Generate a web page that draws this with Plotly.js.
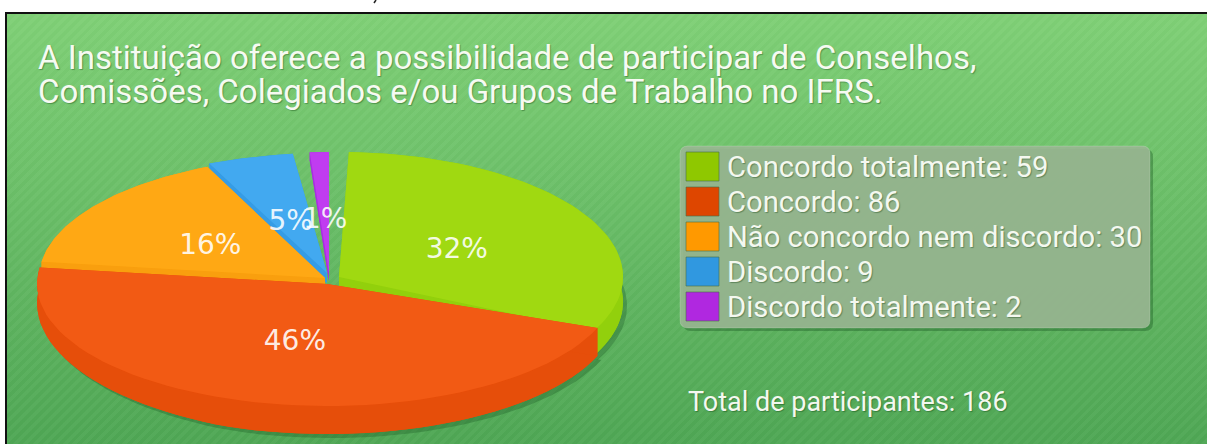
<!DOCTYPE html>
<html><head><meta charset="utf-8">
<script src="https://cdn.plot.ly/plotly-3.0.1.min.js"></script>
<style>
html,body{margin:0;padding:0;background:#fff;overflow:hidden}
#bg{position:absolute;left:5px;top:12px;width:1240px;height:440px;box-sizing:border-box;border:2px solid #111;
background:repeating-linear-gradient(135deg,rgba(255,255,255,.03) 0 3.5px,rgba(0,0,0,.012) 3.5px 7px),linear-gradient(180deg,#7fd076 0%,#4ea654 100%);}
#chart{position:absolute;left:0;top:0;width:1207px;height:444px}
</style></head><body>
<div id="bg"></div><div id="chart"></div>
<script>
const titleText = "A Instituição oferece a possibilidade de participar de Conselhos,<br>Comissões, Colegiados e/ou Grupos de Trabalho no IFRS.";
const categories = ["Concordo totalmente","Concordo","Não concordo nem discordo","Discordo","Discordo totalmente"];
const values = [59,86,30,9,2];
const totalLabel = "Total de participantes: 186";
const topColors = ["#a0d911","#f25a14","#ffa814","#42a9f0","#c03cf0"];
const sideColors = ["#92d00c","#e64e0a","#f99f0e","#359ce5","#a82ee0"];
const swatchColors = ["#8fc800","#de4600","#ff9900","#3098e0","#b028e0"];
const fontFamily = "Roboto, sans-serif";

const total = values.reduce((a,b)=>a+b,0);
// exploded slice geometry: apex, rotation nudge (deg), radii, extrusion, label nudge
const geom=[
 {c:[339,277],rot:2,rx:284,ryT:125,ryB:122,dep:25,ldy:6,ldx:-4},
 {c:[327,284],rot:-3,rx:290,ryT:124,ryB:122,dep:28,ldy:0,ldx:4},
 {c:[325,278],rot:-3,rx:286,ryT:122,ryB:122,dep:10,ldy:5,ldx:0},
 {c:[327,273],rot:-3,rx:286,ryT:120,ryB:120,dep:10,ldy:8,ldx:2},
 {c:[329,273],rot:0,rx:286,ryT:121,ryB:121,dep:8,ldy:8,ldx:1}
];
const toRad=d=>d*Math.PI/180;
function pt(g,deg){const s=Math.sin(toRad(deg)),co=Math.cos(toRad(deg));
  return [g.c[0]+g.rx*s, g.c[1]-co*(co>0?g.ryT:g.ryB)];}
let acc=0;
const slices=values.map((v,i)=>{const g=geom[i];const a0=acc+g.rot,a1=acc+v/total*360+g.rot;acc+=v/total*360;return {i,a0,a1,g};});
function arcAngles(s,n=60){const p=[];for(let k=0;k<=n;k++)p.push(s.a0+(s.a1-s.a0)*k/n);return p;}
const traces=[];
function poly(points,color,name){return {type:'scatter',mode:'lines',x:points.map(p=>p[0]),y:points.map(p=>p[1]),fill:'toself',fillcolor:color,line:{width:0,color:color},hoverinfo:'skip',showlegend:false,name};}
// depth tapers toward the left rim of the pie
function depthAt(g,a){return a>200? g.dep-10*Math.min(1,(a-200)/77)*(g.dep>=20?1:0): g.dep;}
// soft shadow beneath the solid
[0,1].forEach(i=>{const s=slices[i],g=s.g;
  const pts=[[g.c[0]+4,g.c[1]+g.dep+4],...arcAngles(s).map(a=>{const p=pt(g,a);return [p[0]+4,p[1]+depthAt(g,a)+4];})];
  traces.push(poly(pts,'rgba(20,80,30,0.30)',categories[i]+' sombra'));});
// back-to-front order
[4,3,2,0,1].forEach(i=>{const s=slices[i],g=s.g,ang=arcAngles(s);
  const a=ang.map(x=>pt(g,x)),low=ang.map((x,k)=>[a[k][0],a[k][1]+depthAt(g,x)]);
  const c=g.c,cl=[c[0],c[1]+g.dep];
  traces.push(poly([cl,...low],sideColors[i],categories[i]+' base'));
  traces.push(poly([...a,...low.slice().reverse()],sideColors[i],categories[i]+' lateral'));
  traces.push(poly([c,a[0],low[0],cl],sideColors[i],categories[i]+' corte 1'));
  traces.push(poly([c,a[a.length-1],low[low.length-1],cl],sideColors[i],categories[i]+' corte 2'));
  traces.push(poly([c,...a,c],topColors[i],categories[i]));
});
// percent labels at the middle of each slice
const lab=slices.map(s=>{const p=pt(s.g,(s.a0+s.a1)/2);return [(p[0]+s.g.c[0])/2+s.g.ldx,(p[1]+s.g.c[1])/2+s.g.ldy];});
traces.push({type:'scatter',mode:'text',x:lab.map(p=>p[0]),y:lab.map(p=>p[1]),
  text:values.map(v=>Math.round(v/total*100)+'%'),textposition:'middle center',hoverinfo:'skip',showlegend:false,
  textfont:{family:"DejaVu Sans",size:28,color:'rgba(255,255,255,0.9)'}});

const shapes=[];
const annotations=[];
const r=8,PX0=680,PX1=1150,PY0=146,PY1=328;
const rr=(x0,y0,x1,y1)=>`M${x0+r},${y0}L${x1-r},${y0}Q${x1},${y0} ${x1},${y0+r}L${x1},${y1-r}Q${x1},${y1} ${x1-r},${y1}L${x0+r},${y1}Q${x0},${y1} ${x0},${y1-r}L${x0},${y0+r}Q${x0},${y0} ${x0+r},${y0}Z`;
shapes.push({type:'path',path:rr(PX0+3,PY0+3,PX1+3,PY1+3),fillcolor:'rgba(20,80,30,0.35)',line:{width:0},layer:'below'});
shapes.push({type:'path',path:rr(PX0,PY0,PX1,PY1),fillcolor:'rgb(153,183,146)',opacity:0.92,line:{width:1,color:'rgba(255,255,255,0.2)'},layer:'below'});
shapes.push({type:'line',x0:376,y0:0,x1:374,y1:3,line:{color:'#222',width:1.5}});
const textShadow='1px 1px 1px rgba(0,50,0,0.35)';
categories.forEach((c,i)=>{
  const yc=167+35*i;
  shapes.push({type:'rect',x0:686,x1:719,y0:yc-15,y1:yc+14,fillcolor:swatchColors[i],line:{width:1,color:'rgba(70,110,70,0.6)'}});
  annotations.push({x:725,y:yc,xref:'x',yref:'y',xanchor:'left',yanchor:'middle',showarrow:false,align:'left',
    text:`${c}: ${values[i]}`,font:{family:fontFamily,size:29.2,color:'#f4f8f0',shadow:textShadow}});
});
annotations.push({x:686,y:402,xref:'x',yref:'y',xanchor:'left',yanchor:'middle',showarrow:false,text:totalLabel,
  font:{family:fontFamily,size:27,color:'#f4f8f0',shadow:textShadow}});

const layout={width:1207,height:444,margin:{l:0,r:0,t:0,b:0},paper_bgcolor:'rgba(0,0,0,0)',plot_bgcolor:'rgba(0,0,0,0)',
  showlegend:false,hovermode:false,
  title:{text:titleText,x:38/1207,xanchor:'left',xref:'paper',y:1-69/444,yanchor:'top',yref:'container',
    font:{family:fontFamily,size:33,color:'#f6faf2',shadow:textShadow}},
  xaxis:{range:[0,1207],visible:false,fixedrange:true},
  yaxis:{range:[444,0],visible:false,fixedrange:true},
  shapes,annotations};
Plotly.newPlot('chart',traces,layout,{displayModeBar:false,staticPlot:true}).then(()=>{
  document.querySelectorAll('.gtitle tspan.line').forEach((t,i)=>{t.setAttribute('dy',(i*34)+'px');});
});
</script></body></html>
